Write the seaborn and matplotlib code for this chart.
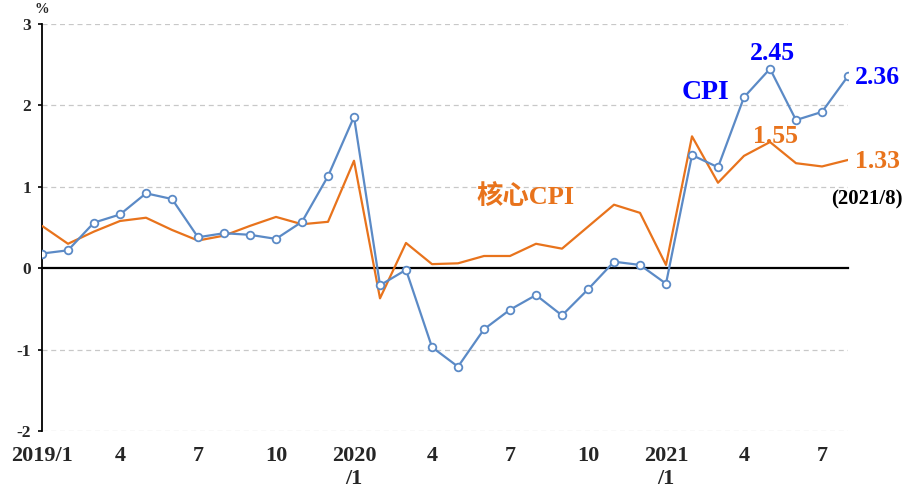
import numpy as np
import pandas as pd
import matplotlib
matplotlib.use("Agg")
import matplotlib.pyplot as plt
import seaborn as sns

# monthly index 2019/1 .. 2021/8
months = list(range(32))
cpi = [0.18, 0.22, 0.56, 0.66, 0.92, 0.85, 0.38, 0.43, 0.41, 0.36, 0.57, 1.13,
       1.86, -0.21, -0.02, -0.97, -1.21, -0.75, -0.51, -0.33, -0.58, -0.26, 0.08, 0.04,
       -0.19, 1.39, 1.24, 2.10, 2.45, 1.82, 1.92, 2.36]
core_cpi = [0.52, 0.30, 0.45, 0.58, 0.62, 0.47, 0.34, 0.40, 0.52, 0.63, 0.54, 0.57,
            1.32, -0.37, 0.31, 0.05, 0.06, 0.15, 0.15, 0.30, 0.24, 0.51, 0.78, 0.68,
            0.04, 1.62, 1.05, 1.38, 1.55, 1.29, 1.25, 1.33]
tick_labels = {0: "2019/1", 3: "4", 6: "7", 9: "10", 12: "2020\n/1", 15: "4",
               18: "7", 21: "10", 24: "2021\n/1", 27: "4", 30: "7"}

blue = "#5B8AC6"
orange = "#E8731C"
fam = ["Liberation Serif", "Noto Sans CJK TC"]

sns.set_style("white")
plt.rcParams["font.family"] = fam
plt.rcParams["font.weight"] = "bold"

df = pd.DataFrame({"month": months, "CPI": cpi, "核心CPI": core_cpi})

fig = plt.figure(figsize=(9.06, 4.91), dpi=100)
ax = fig.add_axes([42 / 906, 1 - 431 / 491, (848 - 42) / 906, (431 - 24) / 491])

sns.lineplot(data=df, x="month", y="核心CPI", ax=ax, color=orange, linewidth=1.6, zorder=3)
sns.lineplot(data=df, x="month", y="CPI", ax=ax, color=blue, linewidth=1.6,
             marker="o", markersize=5.5, markerfacecolor="white", markeredgecolor=blue,
             markeredgewidth=1.3, zorder=4)

ax.set_xlim(0, 31)
ax.set_ylim(-2, 3)
ax.tick_params(axis="x", direction="in", length=5, width=1.3, pad=128, color="black",
               labelsize=16)
ax.tick_params(axis="y", direction="out", length=3, width=1.2, pad=5, color="black", left=True,
               labelsize=12.5)
ax.set_yticks([-2, -1, 0, 1, 2, 3])
ax.set_yticklabels(["-2", "-1", "0", "1", "2", "3"], fontweight="bold")
for v in [-2, -1, 1, 2, 3]:
    ax.axhline(v, color="#C8C8C8", linestyle=(0, (4, 3)), linewidth=0.9, zorder=1)

ax.set_xticks(months)
ax.set_xticklabels([tick_labels.get(m, "") for m in months], fontweight="bold")

ax.spines["bottom"].set_position(("data", 0))
ax.spines["bottom"].set_linewidth(1.6)
ax.spines["left"].set_linewidth(1.3)
ax.spines["left"].set_color("black")
ax.spines["bottom"].set_color("black")
ax.spines["top"].set_visible(False)
ax.spines["right"].set_visible(False)
ax.set_xlabel("")
ax.set_ylabel("")

ax.text(0, 3.1, "%", fontsize=10.5, fontweight="bold", ha="center", va="bottom")

ax.annotate(f"{cpi[28]:.2f}", (28, cpi[28]), xytext=(2, 3), textcoords="offset points",
            ha="center", va="bottom", color="#0000FF", fontsize=18.5, fontweight="bold")
ax.annotate(f"{cpi[31]:.2f}", (31, cpi[31]), xytext=(5, -1), textcoords="offset points",
            ha="left", va="center", color="#0000FF", fontsize=18.5, fontweight="bold")
ax.annotate(f"{core_cpi[28]:.2f}", (28, core_cpi[28]), xytext=(4, -4), textcoords="offset points",
            ha="center", va="bottom", color=orange, fontsize=18.5, fontweight="bold")
ax.annotate(f"{core_cpi[31]:.2f}", (31, core_cpi[31]), xytext=(5, -1), textcoords="offset points",
            ha="left", va="center", color=orange, fontsize=18.5, fontweight="bold")
ax.text(33.1, 0.84, "(2021/8)", fontsize=15, fontweight="bold", ha="right", va="center",
        color="black", clip_on=False)
ax.text(25.5, 2.16, "CPI", fontsize=20, fontweight="bold", color="#0000FF", ha="center", va="center")
ax.text(18.6, 0.88, "核心CPI", fontsize=19, fontweight="bold", color=orange, ha="center",
        va="center", family=fam)

fig.savefig("out.png", dpi=100)
